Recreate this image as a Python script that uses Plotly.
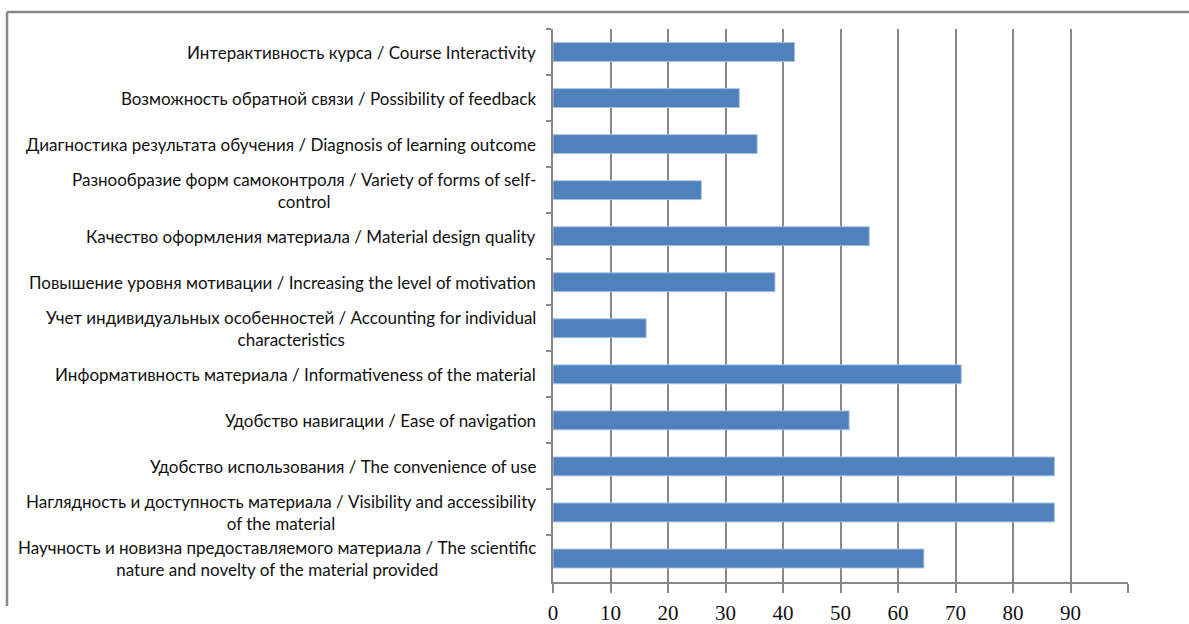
import plotly.graph_objects as go

categories = [
    "Интерактивность курса / Course Interactivity",
    "Возможность обратной связи / Possibility of feedback",
    "Диагностика результата обучения / Diagnosis of learning outcome",
    "Разнообразие форм самоконтроля / Variety of forms of self-<br>control",
    "Качество оформления материала / Material design quality",
    "Повышение уровня мотивации / Increasing the level of motivation",
    "Учет индивидуальных особенностей / Accounting for individual<br>characteristics",
    "Информативность материала / Informativeness of the material",
    "Удобство навигации / Ease of navigation",
    "Удобство использования / The convenience of use",
    "Наглядность и доступность материала / Visibility and accessibility<br>of the material",
    "Научность и новизна предоставляемого материала / The scientific<br>nature and novelty of the material provided",
]
values = [42, 32.4, 35.5, 25.8, 55, 38.6, 16.2, 71, 51.5, 87.2, 87.2, 64.5]
x_tick_values = [0, 10, 20, 30, 40, 50, 60, 70, 80, 90, 100]
x_tick_labels = ["0", "10", "20", "30", "40", "50", "60", "70", "80", "90", ""]

W, H = 1189, 624
L, R, T, B = 553, 61, 29, 42
pw = W - L - R
ph = H - T - B

fig = go.Figure()
fig.add_trace(go.Bar(
    x=values, y=categories, orientation="h",
    marker=dict(color="#4f81bd", line=dict(color="#a9c0de", width=1)),
    hoverinfo="x+y",
))

for c in categories:
    fig.add_annotation(
        x=-15 / pw, xref="paper", y=c, yref="y",
        text=c, showarrow=False, xanchor="right", yanchor="middle",
        align="center", font=dict(family="Lato", size=17, color="#111111"),
    )

gray = "#888888"
fig.update_xaxes(
    range=[0, 100], tickvals=x_tick_values, ticktext=x_tick_labels,
    showgrid=True, gridcolor=gray, gridwidth=2,
    showline=True, linecolor=gray, linewidth=2,
    ticks="outside", ticklen=9, tickwidth=2, tickcolor=gray,
    ticklabelstandoff=2, automargin=False,
    tickfont=dict(family="Liberation Serif", size=21, color="#111111"),
    zeroline=False, fixedrange=True,
)
fig.update_yaxes(
    autorange="reversed", showticklabels=False, automargin=False,
    showline=True, linecolor=gray, linewidth=2,
    ticks="outside", ticklen=5, tickwidth=2, tickcolor=gray,
    tickson="boundaries", showgrid=False, fixedrange=True,
)

# chart frame (left and top edges)
x_left = (7 - L) / pw
y_top = (H - B - 12) / ph
y_bot = (H - B - 606) / ph
fig.add_shape(type="line", xref="paper", yref="paper", x0=x_left, x1=x_left,
              y0=y_bot, y1=y_top, line=dict(color=gray, width=2.5))
fig.add_shape(type="line", xref="paper", yref="paper", x0=x_left, x1=(W - L) / pw,
              y0=y_top, y1=y_top, line=dict(color=gray, width=2.5))

fig.update_layout(
    width=W, height=H,
    margin=dict(l=L, r=R, t=T, b=B, autoexpand=False),
    bargap=0.59,
    plot_bgcolor="white", paper_bgcolor="white",
    showlegend=False,
)

fig.write_html("out.html", config={"displayModeBar": False})

# remove default page margin so the figure sits at the window origin
with open("out.html", "r", encoding="utf-8") as f:
    html = f.read()
html = html.replace("<head>", "<head><style>html,body{margin:0;padding:0;overflow:hidden;}</style>", 1)
with open("out.html", "w", encoding="utf-8") as f:
    f.write(html)
